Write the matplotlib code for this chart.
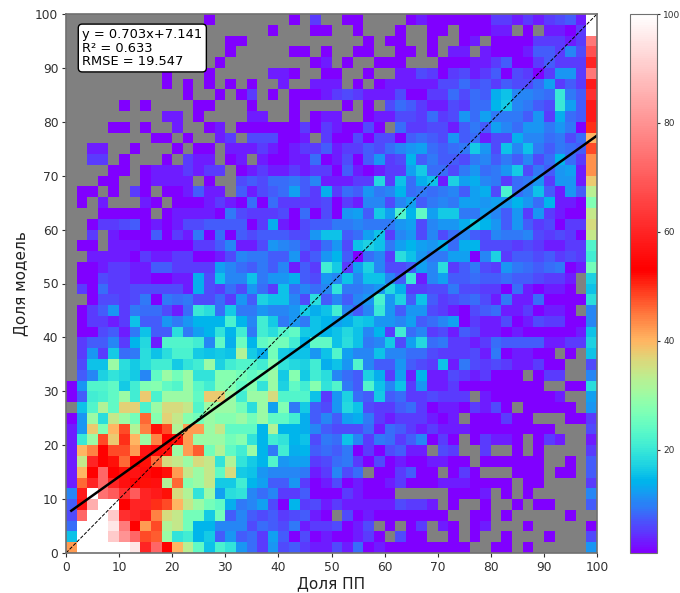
import numpy as np
import matplotlib
matplotlib.use('Agg')
import matplotlib.pyplot as plt
from matplotlib.colors import LinearSegmentedColormap

# Shade read per 2x2 bin, top row of the picture first, 0 = empty bin (grey)
counts = [
    [0,0,0,0,0,0,0,0,0,0, 0,0,0,1,0,0,0,0,0,0, 0,1,0,3,0,0,1,1,0,0, 0,0,1,2,1,1,1,1,1,1, 3,3,2,3,2,3,4,5,2,100],
    [0,0,0,0,0,0,0,0,0,0, 0,0,0,0,0,0,0,0,0,1, 0,0,0,1,1,0,0,1,0,0, 0,1,0,0,1,1,0,1,1,1, 2,2,0,1,0,2,2,1,3,100],
    [0,0,0,0,0,0,0,0,0,0, 0,0,0,0,0,1,1,0,0,0, 0,0,0,0,0,0,0,0,1,0, 1,1,0,0,1,0,0,1,2,0, 1,1,1,1,3,3,3,2,3,75],
    [0,0,0,0,0,0,0,0,0,0, 0,0,0,0,0,1,0,0,0,0, 0,1,1,0,1,0,0,1,1,0, 0,1,1,0,1,0,2,2,0,2, 1,1,1,2,5,5,3,8,4,68],
    [0,0,0,0,0,0,0,0,0,0, 0,0,0,0,1,0,0,0,0,0, 0,0,0,1,2,0,1,0,0,1, 1,1,0,0,0,1,1,1,2,2, 3,5,1,1,3,5,3,3,3,60],
    [0,0,0,0,0,0,0,0,0,1, 0,0,0,1,0,0,0,0,0,2, 2,1,0,0,1,1,0,0,1,0, 0,2,2,4,3,1,3,4,2,3, 5,1,4,3,1,3,9,9,3,75],
    [0,0,0,0,0,0,0,0,0,1, 0,1,0,1,0,1,0,1,0,0, 2,0,0,2,2,2,0,1,0,1, 2,2,2,2,2,4,4,6,4,5, 3,5,4,4,6,10,3,5,3,58],
    [0,0,0,0,0,0,0,0,0,0, 0,1,0,0,1,0,1,3,0,1, 0,1,1,1,2,3,4,3,2,2, 2,4,1,1,3,3,6,4,6,5, 11,13,8,8,7,6,19,7,5,62],
    [0,0,0,0,0,1,0,1,0,0, 0,0,1,1,0,0,0,1,0,0, 0,1,0,0,0,0,1,0,1,0, 4,6,5,3,2,2,4,3,6,6, 12,14,8,7,5,4,19,10,5,58],
    [0,0,0,0,0,0,0,0,0,2, 2,0,1,0,0,0,0,2,2,0, 0,1,0,1,2,2,0,0,1,2, 2,4,4,3,6,3,4,9,6,10, 7,7,7,5,9,3,11,6,5,58],
    [0,0,0,0,1,1,0,1,0,0, 2,0,0,1,2,0,1,1,1,1, 1,1,3,1,3,2,1,1,4,1, 0,6,3,3,4,4,2,5,7,5, 10,8,6,9,9,7,9,7,1,50],
    [0,0,0,0,0,0,0,0,1,1, 0,1,0,0,2,3,0,4,4,4, 1,1,2,0,3,1,1,4,1,4, 4,1,5,6,5,4,9,5,6,2, 4,4,11,8,8,6,7,4,6,40],
    [0,0,2,2,0,0,1,0,0,0, 1,0,1,1,0,2,2,2,3,2, 1,2,3,3,5,2,3,3,5,4, 6,8,9,10,6,5,6,7,14,9, 4,13,8,13,7,5,7,6,5,48],
    [0,0,3,3,0,1,0,0,0,1, 0,3,2,2,0,1,2,0,2,1, 1,2,2,6,1,2,4,1,5,9, 3,4,12,5,7,5,5,4,7,8, 5,7,5,8,4,6,12,6,3,43],
    [0,0,0,0,1,1,0,1,2,2, 2,3,2,3,3,0,1,2,3,2, 2,3,2,3,3,1,5,2,1,2, 3,3,10,14,6,6,4,7,9,6, 7,9,14,4,7,5,9,10,2,43],
    [0,0,0,1,1,0,0,1,2,2, 2,2,0,1,0,0,4,5,4,6, 6,7,5,8,2,2,2,3,3,16, 3,13,6,11,13,2,15,10,11,8, 7,3,6,7,9,3,9,9,2,38],
    [0,1,1,0,1,0,3,1,0,1, 1,2,5,2,2,0,5,2,4,5, 6,10,5,3,11,3,6,5,9,7, 8,12,6,7,6,7,8,5,10,11, 4,21,6,8,13,5,2,9,5,33],
    [0,1,0,2,0,0,0,2,1,0, 1,1,1,2,3,2,1,6,1,6, 3,3,3,3,4,1,3,2,8,8, 4,8,10,5,7,8,7,10,10,9, 10,9,12,9,6,12,2,2,1,27],
    [0,0,0,1,1,1,1,1,0,1, 2,2,2,2,1,7,4,3,3,3, 4,1,6,1,4,1,9,10,5,14, 10,22,12,24,10,14,14,7,7,10, 8,5,9,3,9,3,2,1,1,34],
    [0,0,1,3,3,4,5,1,2,1, 2,4,4,5,5,5,5,1,3,11, 2,1,4,5,5,7,7,8,7,7, 7,9,10,4,8,9,9,11,14,12, 9,5,9,5,3,4,1,3,3,36],
    [0,0,3,0,2,1,1,1,5,1, 3,2,7,1,6,1,5,4,5,5, 5,4,4,9,13,13,5,6,10,13, 3,8,9,4,8,4,6,8,5,4, 8,7,7,8,4,3,4,3,1,34],
    [0,1,1,0,2,2,2,1,1,1, 1,1,3,3,5,8,2,2,4,9, 8,7,5,3,6,9,4,13,15,13, 7,10,12,10,9,11,6,11,12,4, 4,4,3,4,3,2,2,3,3,22],
    [0,0,2,2,2,2,1,3,2,2, 3,3,1,1,2,4,8,7,7,5, 5,9,3,5,9,12,5,1,6,8, 3,17,13,9,7,7,10,10,1,8, 15,3,5,5,4,5,3,4,3,20],
    [0,1,1,2,3,3,2,2,5,5, 3,3,3,3,10,8,6,5,7,5, 8,2,5,3,20,14,3,10,15,8, 4,4,5,10,8,17,3,5,7,4, 3,9,7,6,5,6,7,1,2,26],
    [0,1,1,4,3,3,2,2,1,1, 2,2,11,4,13,8,8,13,7,9, 9,11,5,4,9,8,13,8,13,13, 8,5,19,2,8,10,5,5,6,5, 5,6,5,5,4,3,3,2,0,15],
    [0,3,1,6,3,3,4,4,4,4, 4,2,11,4,3,6,4,9,6,3, 13,6,8,6,8,18,7,7,8,9, 16,11,3,3,4,4,7,4,4,3, 3,1,6,2,1,2,2,1,0,13],
    [0,0,1,4,4,3,4,7,1,7, 6,7,4,4,6,3,9,5,15,13, 13,8,4,17,5,8,5,8,9,21, 9,15,5,13,5,3,4,5,6,4, 2,7,2,2,6,1,1,1,1,17],
    [0,1,3,5,9,3,7,6,6,4, 2,6,19,17,6,14,7,7,9,8, 8,9,14,11,13,20,8,5,8,19, 9,5,9,9,4,3,2,1,4,5, 6,2,2,3,1,2,2,1,0,8],
    [0,1,3,3,2,3,13,5,5,9, 7,9,12,12,12,21,12,8,20,14, 7,9,7,13,12,10,11,14,13,9, 9,8,10,5,6,8,10,1,3,2, 2,4,1,2,4,3,3,1,1,8],
    [0,1,1,4,5,2,7,13,5,5, 17,7,10,12,18,12,20,7,20,17, 22,24,14,13,12,13,16,13,8,12, 3,20,6,8,3,4,2,5,4,2, 2,1,2,1,1,1,1,1,2,13],
    [0,3,5,5,8,3,12,16,2,22, 22,22,20,8,24,11,25,12,24,26, 26,20,12,24,24,13,17,13,7,8, 14,4,10,16,6,7,3,3,2,3, 6,5,5,5,5,2,2,3,3,15],
    [0,3,9,3,14,6,7,17,13,17, 21,21,14,13,14,13,32,14,11,26, 14,13,13,9,13,22,10,8,8,13, 8,8,6,6,4,3,3,3,4,2, 7,1,2,2,1,1,0,1,0,13],
    [0,4,13,13,30,17,14,17,20,20, 14,18,20,30,15,20,22,22,20,28, 18,16,15,20,11,13,9,22,8,5, 5,9,5,4,3,13,2,7,4,3, 4,3,2,2,3,1,1,0,0,4],
    [0,5,8,15,18,16,14,8,24,30, 26,30,18,18,28,28,26,24,26,30, 14,28,14,20,17,8,6,5,15,11, 3,10,2,12,2,2,4,3,2,3, 1,1,1,0,1,3,3,0,0,8],
    [1,9,22,22,24,14,20,27,28,24, 22,30,23,20,28,27,24,28,18,30, 15,24,20,28,18,22,7,5,22,13, 8,13,3,9,2,2,3,1,1,1, 1,1,1,1,1,0,0,1,1,17],
    [1,5,20,21,24,30,20,38,21,30, 30,30,24,38,38,30,20,30,30,36, 22,22,22,13,3,9,15,6,5,14, 5,6,3,3,4,3,3,3,0,2, 1,1,1,1,1,1,2,0,0,10],
    [0,13,22,32,24,37,37,21,30,36, 36,34,22,30,30,30,26,17,30,10, 27,7,14,5,4,9,16,13,4,3, 3,5,6,3,1,2,2,1,3,2, 4,1,0,1,1,1,1,1,0,9],
    [1,9,30,17,34,30,26,46,28,37, 34,28,26,30,28,28,30,26,30,24, 24,20,11,5,8,5,10,11,7,3, 2,3,3,3,2,1,2,0,1,1, 1,3,1,1,0,0,0,1,1,3],
    [2,9,38,27,40,48,32,44,52,48, 32,42,42,30,34,24,24,24,12,32, 12,12,11,8,5,4,4,4,6,2, 6,5,3,2,3,2,2,2,1,1, 1,1,1,1,1,1,0,0,0,4],
    [2,19,30,48,38,50,40,30,44,53, 52,42,30,30,30,26,28,18,12,20, 18,12,13,4,7,6,13,8,3,7, 6,3,5,8,1,3,1,0,1,3, 2,2,1,0,1,3,2,0,0,2],
    [2,40,44,53,48,48,42,57,55,52, 30,42,47,26,32,24,20,30,12,7, 20,11,12,5,6,5,7,1,3,1, 4,5,2,2,0,4,3,0,0,3, 0,0,1,0,1,0,0,0,0,3],
    [2,34,60,53,52,46,53,52,46,36, 34,30,36,34,18,32,18,14,12,22, 9,10,10,3,4,6,7,3,1,4, 1,2,1,1,2,2,1,1,0,1, 1,1,1,1,1,0,0,1,0,5],
    [2,40,53,72,53,52,57,55,53,52, 42,34,30,34,24,36,14,13,9,8, 8,8,7,2,3,8,4,6,0,1, 1,3,5,1,1,0,1,3,1,0, 0,0,1,1,1,0,1,1,0,5],
    [2,46,60,72,60,56,54,52,56,32, 46,28,30,34,14,14,20,12,10,5, 5,9,3,1,2,4,1,2,1,1, 2,3,1,1,1,2,2,2,1,1, 1,1,0,1,1,0,0,0,0,3],
    [8,58,100,74,70,62,70,60,58,52, 36,32,18,30,10,17,18,8,6,8, 3,3,5,1,1,1,3,2,1,1, 1,0,0,0,0,0,1,1,1,2, 0,1,0,1,0,0,0,0,0,8],
    [5,57,85,100,100,53,60,60,50,48, 40,34,30,26,24,11,7,8,10,4, 1,12,3,4,2,3,2,2,2,2, 2,4,3,3,2,0,1,0,0,1, 0,0,1,0,1,1,0,0,0,5],
    [4,72,100,100,90,62,60,58,44,36, 34,26,26,14,26,5,8,5,4,5, 3,4,5,2,1,0,4,1,2,1, 1,1,1,1,1,1,0,0,1,1, 0,1,0,0,0,0,0,1,0,0],
    [6,100,100,100,95,76,53,42,48,32, 34,26,12,12,8,8,8,4,6,5, 4,7,2,3,3,4,1,2,4,0, 1,0,1,3,0,2,1,0,1,2, 0,0,0,1,0,0,0,0,0,1],
    [13,100,100,100,90,80,72,48,47,30, 18,20,12,14,5,9,5,6,3,10, 5,1,4,1,2,1,1,2,3,1, 0,4,1,1,0,0,1,0,1,0, 0,1,0,0,0,1,0,0,0,4],
    [42,100,100,100,100,100,95,60,72,53, 40,33,24,13,21,18,9,6,3,9, 4,5,3,2,2,4,2,6,1,2, 1,1,1,1,1,1,1,1,0,0, 1,1,0,1,0,0,0,0,0,9],
]

# my low shades came out too dark, this is the correction against the colorbar
shade_read = [1, 2, 3, 5, 8, 12, 16, 20, 24, 100]
shade_value = [1.3, 3.2, 5, 7.5, 10.5, 14.5, 18, 21, 24, 100]

ticks = [0, 10, 20, 30, 40, 50, 60, 70, 80, 90, 100]
cbar_ticks = [20, 40, 60, 80, 100]
slope = 0.703
intercept = 7.141
r2 = 0.633
rmse = 19.547

# rainbow up to about 53, then red fading to white
rainbow = plt.cm.rainbow(np.linspace(0, 1, 135))
to_white = np.ones((121, 4))
to_white[:, 1] = np.linspace(0, 1, 121)
to_white[:, 2] = np.linspace(0, 1, 121)
cmap = LinearSegmentedColormap.from_list('rainbow_white', np.vstack([rainbow, to_white]), N=256)
cmap.set_bad('#808080')

raw = np.array(counts, dtype=float)
grid = np.ma.masked_where(raw == 0, np.interp(raw, shade_read, shade_value))
x_edges = np.arange(0, 101, 2)
y_edges = np.arange(100, -1, -2)

fig = plt.figure(figsize=(6.8, 5.93), dpi=100)
ax = fig.add_axes([66 / 680, 1 - 553 / 593, 531 / 680, 539 / 593])
cax = fig.add_axes([630 / 680, 1 - 553 / 593, 27 / 680, 539 / 593])

mesh = ax.pcolormesh(x_edges, y_edges, grid, cmap=cmap, vmin=1, vmax=100)

xs = np.array([1, 100])
ax.plot(xs, slope * xs + intercept, color='k', lw=1.8)
ax.plot([0, 100], [0, 100], color='k', lw=0.7, ls='--')

ax.set_xlim(0, 100)
ax.set_ylim(0, 100)
ax.set_xticks(ticks)
ax.set_yticks(ticks)
ax.tick_params(labelsize=8.8, length=3, pad=2.5, colors='#303030')
ax.set_xlabel('Доля ПП', fontsize=11, labelpad=2, color='#202020')
ax.set_ylabel('Доля модель', fontsize=11, labelpad=5, color='#202020')
for spine in ax.spines.values():
    spine.set_color('#707070')
    spine.set_linewidth(1.2)

ax.text(0.0305, 0.974, f'y = {slope}x+{intercept}\nR² = {r2}\nRMSE = {rmse}',
        transform=ax.transAxes, fontsize=9.4, va='top', ha='left', linespacing=1.05,
        bbox=dict(boxstyle='round,pad=0.3', fc='white', ec='k', lw=1))

cbar = fig.colorbar(mesh, cax=cax)
cbar.set_ticks(cbar_ticks)
cbar.ax.tick_params(labelsize=6.5, length=2.5, pad=2, colors='#303030')
cbar.outline.set_edgecolor('#707070')

fig.savefig('out.png', dpi=100)
